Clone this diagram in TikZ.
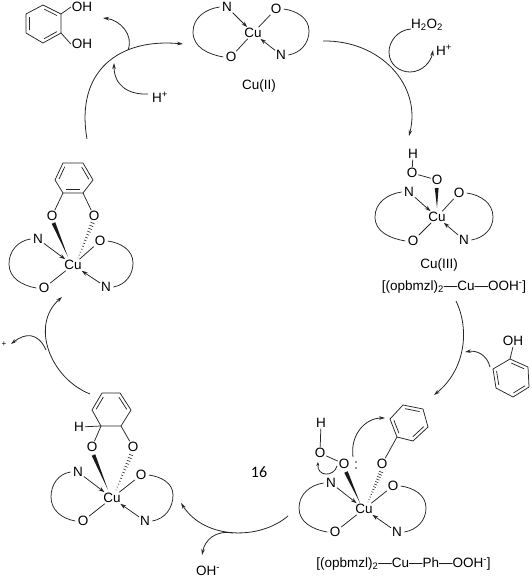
\documentclass[tikz,border=0pt]{standalone}
\usepackage{fontspec}
\setmainfont{Liberation Sans}
\newfontfamily\numfont{Carlito}
\usetikzlibrary{calc,arrows.meta}
\tikzset{
  atom/.style={inner sep=0.8pt,font=\fontsize{13.5}{14}\selectfont},
  lab/.style={inner sep=0pt,font=\fontsize{13.5}{14}\selectfont},
  bond/.style={line width=0.75pt,black!85},
  dative/.style={bond,-{Stealth[length=6pt,width=4pt]}},
  flow/.style={line width=0.8pt,black!85,-{Stealth[length=6pt,width=3.6pt]}},
  tail/.style={line width=0.8pt,black!85},
}
% complex core: name, Cu, N1, O1, O2, N2, left extreme, right extreme
\newcommand{\cucomplex}[8]{%
  \node[atom] (#1-Cu) at (#2) {Cu};
  \node[atom] (#1-N1) at (#3) {N};
  \node[atom] (#1-O1) at (#4) {O};
  \node[atom] (#1-O2) at (#5) {O};
  \node[atom] (#1-N2) at (#6) {N};
  \coordinate (#1-L) at (#7);
  \coordinate (#1-R) at (#8);
  \draw[bond] (#1-O1) -- (#1-Cu);
  \draw[bond] (#1-O2) -- (#1-Cu);
  \draw[dative] (#1-N1) -- (#1-Cu);
  \draw[dative] (#1-N2) -- (#1-Cu);
  \draw[bond] ($(#1-N1.west)+(-1.5,0)$) to[out=188,in=90,looseness=1] (#1-L)
     to[out=-90,in=170,looseness=1] ($(#1-O1.west)+(-1.5,0)$);
  \draw[bond] ($(#1-O2.east)+(1.5,0)$) to[out=-8,in=90,looseness=1] (#1-R)
     to[out=-90,in=10,looseness=1] ($(#1-N2.east)+(1.5,0)$);
}
\newcommand{\wedgeb}[2]{% wide at #1, tip at #2
  \fill[black!90] ($(#1)!1.9pt!90:(#2)$) -- ($(#1)!1.9pt!-90:(#2)$) -- (#2) -- cycle;}
\newcommand{\hashb}[2]{% wide at #1, narrow at #2
  \foreach \t in {0,0.0833,...,1.0}{
    \pgfmathsetmacro{\hw}{1.9*(1-\t)+0.4}
    \draw[line width=0.55pt,black!85] ($(#1)!\t!(#2)!\hw pt!90:(#2)$) -- ($(#1)!\t!(#2)!\hw pt!-90:(#2)$);
  }}
\newcommand{\dblb}[2]{% second line of a double bond, inside a ring listed clockwise on screen
  \draw[bond] ($(#1)!0.14!(#2)!3.2pt!-90:(#2)$) -- ($(#1)!0.86!(#2)!3.2pt!-90:(#2)$);}
\newcommand{\ringat}[7]{%
  \coordinate (#1-a) at (#2); \coordinate (#1-b) at (#3); \coordinate (#1-c) at (#4);
  \coordinate (#1-d) at (#5); \coordinate (#1-e) at (#6); \coordinate (#1-f) at (#7);
  \draw[bond,line join=round] (#1-a) -- (#1-b) -- (#1-c) -- (#1-d) -- (#1-e) -- (#1-f) -- cycle;
}
\begin{document}
\begin{tikzpicture}[x=1pt,y=-1pt]
\useasboundingbox (0,0) rectangle (531,577);

% catechol
\ringat{cat}{43,5}{61,14}{61,33}{43,43}{26,33}{26,14}
\dblb{cat-a}{cat-b}\dblb{cat-c}{cat-d}\dblb{cat-e}{cat-f}
\node[atom] (catOa) at (82,7) {OH};
\node[atom] (catOb) at (82,44) {OH};
\draw[bond] (cat-b) -- (catOa.west);
\draw[bond] (cat-c) -- (catOb.west);

% Cu(II)
\cucomplex{two}{253,33}{227,7}{231,57}{276,9}{281,55}{193,32}{309,31}
\node[lab] (twoLabel) at (259,86) {Cu(II)};

% Cu(III)
\cucomplex{three}{437,217}{409,192}{413,241}{459,193}{464,240}{375,217}{493,217}
\node[atom] (threeH) at (413,154) {H};
\node[atom] (threeOa) at (412,173) {O};
\node[atom] (threeOb) at (437,180) {O};
\draw[bond] (threeH) -- (threeOa);
\draw[bond] (threeOa) -- (threeOb);
\coordinate (threeW) at (436.7,188);
\coordinate (threeT) at (437,208);
\wedgeb{threeW}{threeT}
\node[lab] (threeLabel) at (439,265) {Cu(III)};
\node[lab] (threeFormula) at (454,287) {[(opbmzl)\textsubscript{2}—Cu—OOH\textsuperscript{-}]};

% phenol
\ringat{phe}{510,359}{528,367}{529,387}{513,397}{496,388}{493,369}
\dblb{phe-a}{phe-b}\dblb{phe-c}{phe-d}\dblb{phe-e}{phe-f}
\node[atom] (pheO) at (513,341) {OH};
\draw[bond] (phe-a) -- (pheO.south);

% bottom right complex
\cucomplex{ph}{364,509}{331,483}{335,532}{393,486}{397,532}{299,508}{426,508}
\node[atom] (phH) at (321,423) {H};
\node[atom] (phOa) at (320,453) {O};
\node[atom] (phOb) at (344,464) {O};
\node[atom] (phOc) at (382,464) {O};
\draw[bond] (phH) -- (phOa);
\draw[bond] (phOa) -- (phOb);
\coordinate (phWa) at (346,472);
\coordinate (phTa) at (360,503);
\wedgeb{phWa}{phTa}
\coordinate (phHa) at (381,472);
\coordinate (phHb) at (368,502);
\hashb{phHa}{phHb}
\ringat{phr}{403,405}{423,409}{428,427}{413,441}{397,437}{390,419}
\dblb{phr-a}{phr-b}\dblb{phr-c}{phr-d}\dblb{phr-e}{phr-f}
\draw[bond] (phOc) -- (phr-e);
\fill[black!85] (356,462) circle (0.95) (356,468) circle (0.95);
\coordinate (phBigA) at (353,457);
\coordinate (phBigB) at (385,418);
\draw[flow] (phBigA) .. controls (350,435) and (365,418) .. (phBigB);
\coordinate (phSmA) at (337,466);
\coordinate (phSmB) at (318,462);
\draw[flow,-{Stealth[length=4pt,width=3pt]}] (phSmA) .. controls (334,477) and (317,477) .. (phSmB);
\node[lab] (phLabel) at (403.5,564) {[(opbmzl)\textsubscript{2}—Cu—Ph—OOH\textsuperscript{-}]};

% bottom left complex
\cucomplex{hyd}{112,498}{78,472}{83,521}{141,475}{145,521}{51,497}{173,495}
\node[atom] (hydOa) at (92,447) {O};
\node[atom] (hydOb) at (133,447) {O};
\coordinate (hydWa) at (93.5,455);
\coordinate (hydTa) at (108,490);
\wedgeb{hydWa}{hydTa}
\coordinate (hydHa) at (131,455);
\coordinate (hydHb) at (116,490);
\hashb{hydHa}{hydHb}
\ringat{hydr}{102,393}{120,393}{131,410}{121,426}{101,426}{92,410}
\dblb{hydr-b}{hydr-c}\dblb{hydr-f}{hydr-a}
\node[atom] (hydH) at (79,427) {H};
\draw[bond] (hydH) -- (hydr-e);
\draw[bond] (hydOa) -- (hydr-e);
\draw[bond] (hydOb) -- (hydr-d);

% left complex
\cucomplex{ct}{73,265}{38,239}{44,288}{100,241}{106,287}{9,264}{133,263}
\node[atom] (ctOa) at (52,216) {O};
\node[atom] (ctOb) at (94,216) {O};
\coordinate (ctWa) at (53.5,223);
\coordinate (ctTa) at (68,257);
\wedgeb{ctWa}{ctTa}
\coordinate (ctHa) at (92.5,223);
\coordinate (ctHb) at (78,258);
\hashb{ctHa}{ctHb}
\ringat{ctr}{63,163}{83,163}{93,180}{83,193}{63,193}{55,180}
\dblb{ctr-b}{ctr-c}\dblb{ctr-d}{ctr-e}\dblb{ctr-f}{ctr-a}
\draw[bond] (ctOa) -- (ctr-e);
\draw[bond] (ctOb) -- (ctr-d);

% texts
\node[lab] (hpa) at (160,97) {H\textsuperscript{+}};
\node[lab] (hoo) at (427,25) {H\textsubscript{2}O\textsubscript{2}};
\node[lab] (hpb) at (444,50) {H\textsuperscript{+}};
\node[lab] (ohm) at (208,571) {OH\textsuperscript{-}};
\node[inner sep=0pt,font=\fontsize{8}{9}\selectfont] (plus) at (4,344) {+};
\node[inner sep=0pt,font=\numfont\fontsize{16}{18}\selectfont] (num) at (259,472) {16};

% cycle arrows
\coordinate (aS) at (87,139); \coordinate (aE) at (183,44);
\draw[flow] (aS) .. controls (75,70) and (120,38) .. (aE);
\coordinate (bS) at (323,41); \coordinate (bE) at (409,136);
\draw[flow] (bS) .. controls (380,40) and (422,85) .. (bE);
\coordinate (cS) at (456,301); \coordinate (cE) at (434,395);
\draw[flow] (cS) .. controls (470,330) and (465,370) .. (cE);
\coordinate (dS) at (288,516); \coordinate (dE) at (181,503);
\draw[flow] (dS) .. controls (260,540) and (205,540) .. (dE);
\coordinate (eS) at (90,394); \coordinate (eE) at (62,297);
\draw[flow] (eS) .. controls (50,378) and (30,325) .. (eE);

% side arrows
\coordinate (f1) at (128,50); \coordinate (f2) at (103,18);
\draw[flow] (f1) .. controls (134,35) and (120,20) .. (f2);
\coordinate (g1) at (148,94); \coordinate (g2) at (114,63);
\draw[flow] (g1) .. controls (128,95) and (114,85) .. (g2);
\coordinate (h1) at (411,29); \coordinate (h2) at (389,52); \coordinate (h3) at (410,72); \coordinate (h4) at (433,50);
\draw[flow] (h1) .. controls (397,30) and (389,42) .. (h2) .. controls (389,65) and (400,72) .. (h3) .. controls (422,72) and (431,62) .. (h4);
\coordinate (i1) at (490,367); \coordinate (i2) at (465,352);
\draw[flow] (i1) .. controls (487,355) and (477,350) .. (i2);
\coordinate (j1) at (233,533); \coordinate (j2) at (202,555);
\draw[flow] (j1) .. controls (215,530) and (205,540) .. (j2);
\coordinate (k1) at (46,350); \coordinate (k2) at (11,344);
\draw[flow] (k1) .. controls (38,332) and (25,333) .. (k2);
\end{tikzpicture}
\end{document}
